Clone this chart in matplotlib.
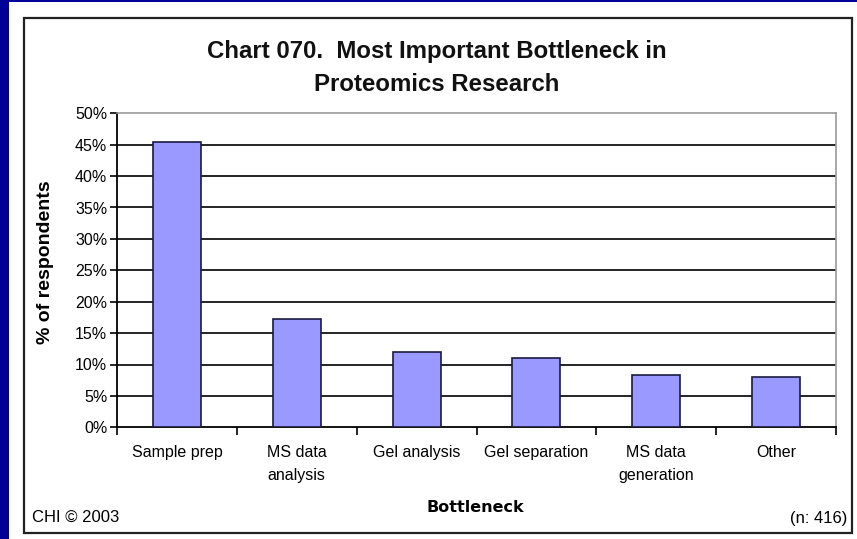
import matplotlib
matplotlib.use("Agg")
import matplotlib.pyplot as plt
from matplotlib.patches import Rectangle
import numpy as np

categories = ["Sample prep", "MS data\nanalysis", "Gel analysis", "Gel separation",
              "MS data\ngeneration", "Other"]
values = [45.4, 17.2, 12.0, 11.1, 8.3, 8.0]
yticks = [0, 5, 10, 15, 20, 25, 30, 35, 40, 45, 50]
ytick_labels = [f"{v}%" for v in yticks]

W, H = 857, 539
fig = plt.figure(figsize=(W / 100, H / 100), dpi=100)
fig.patch.set_facecolor("#000099")

def px(x0, y0, x1, y1):
    return (x0 / W, 1 - y1 / H, (x1 - x0) / W, (y1 - y0) / H)

# white slide area
l, b, w, h = px(9, 2, W, H)
fig.patches.append(Rectangle((l, b), w, h, transform=fig.transFigure,
                             facecolor="white", edgecolor="none", zorder=-10))
# chart frame
l, b, w, h = px(24, 18, 852, 533)
fig.patches.append(Rectangle((l, b), w, h, transform=fig.transFigure,
                             facecolor="none", edgecolor="#222222", linewidth=1.6, zorder=-5))

font = "Liberation Sans"
ax = fig.add_axes(px(117, 113.3, 836, 427.3))
ax.set_zorder(5)
ax.set_facecolor("white")

x = np.arange(len(categories))
ax.bar(x, values, width=0.4, color="#9999FF", edgecolor="#1a1a40", linewidth=1.2, zorder=3)

ax.set_xlim(-0.5, len(categories) - 0.5)
ax.set_ylim(0, 50)
for v in yticks[1:-1]:
    ax.axhline(v, color="black", linewidth=1.2, zorder=1)

ax.set_yticks(yticks)
ax.set_yticklabels(ytick_labels, fontfamily=font, fontsize=11.5)
ax.tick_params(axis="y", direction="out", length=5, width=1.2, pad=2, colors="black")

ax.set_xticks(np.arange(len(categories) + 1) - 0.5)
ax.set_xticklabels([])
ax.tick_params(axis="x", which="major", direction="out", length=6, width=1.2)
ax.set_xticks(x, minor=True)
ax.set_xticklabels(categories, minor=True, fontfamily=font, fontsize=11.5, linespacing=1.65,
                   va="top")
ax.tick_params(axis="x", which="minor", length=0, pad=13)

for s in ["left", "bottom"]:
    ax.spines[s].set_color("black")
    ax.spines[s].set_linewidth(1.3)
for s in ["top", "right"]:
    ax.spines[s].set_color("#999999")
    ax.spines[s].set_linewidth(1.2)

ax.set_ylabel("% of respondents", fontfamily=font, fontsize=14, fontweight="bold")
ax.yaxis.set_label_coords((54 - 117) / 719, (427.3 - 262) / 314)

fig.text(437 / W, 1 - 68 / H, "Chart 070.  Most Important Bottleneck in\nProteomics Research",
         ha="center", va="center", fontfamily=font, fontsize=17.3, fontweight="bold",
         linespacing=1.55, color="#111111")
fig.text(475 / W, 1 - 507 / H, "Bottleneck", ha="center", va="center",
         fontfamily="DejaVu Sans", fontsize=11.5, fontweight="bold")
fig.text(32 / W, 1 - 517 / H, "CHI © 2003", ha="left", va="center", fontfamily=font, fontsize=12)
fig.text(847 / W, 1 - 518 / H, "(n: 416)", ha="right", va="center", fontfamily=font, fontsize=12)

fig.savefig("out.png", dpi=100, facecolor=fig.get_facecolor())
